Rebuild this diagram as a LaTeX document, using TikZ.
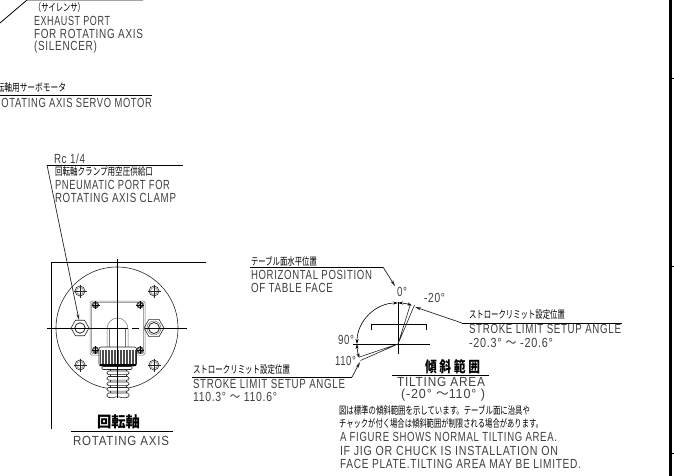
\documentclass[tikz,border=0pt]{standalone}
\usepackage{graphicx}
\usepackage{fontspec}
\setmainfont[LetterSpace=7]{Liberation Sans}
\newfontfamily\jp{Noto Sans CJK JP}
\usetikzlibrary{arrows.meta,shapes.geometric}
\newsavebox\fitbox
\newcommand\fitw[2]{\sbox\fitbox{#2}\pgfmathsetmacro\fitr{#1/\the\wd\fitbox}\scalebox{\fitr}[1]{\usebox\fitbox}}
% name, left x, centre y, width, text
\newcommand\LT[5]{\node[txt,font=\fontsize{13.2}{13}\selectfont] (#1) at (#2,#3) {\fitw{#4}{#5}};}
\newcommand\JT[5]{\node[txt,text=black,font=\fontsize{10.5}{11}\selectfont\jp] (#1) at (#2,#3) {\fitw{#4}{#5}};}
\newcommand\BT[5]{\node[txt,text=black,font=\fontsize{15}{15}\selectfont\jp\bfseries] (#1) at (#2,#3) {\fitw{#4}{#5}};}
\newcommand\wave{\smash{\jp ～}}
\tikzset{
  txt/.style={anchor=west,inner sep=0pt,outer sep=0pt,text=black!75},
  ln/.style={line width=0.8pt,draw=black},
  cl/.style={line width=0.8pt,draw=black},
  thin part/.style={line width=0.6pt,draw=black!85},
  plate/.style={line width=0.5pt,draw=black!55},
  tip/.style={line width=0.6pt,{Stealth[length=5pt,width=3pt]}-{Stealth[length=5pt,width=3pt]}},
  endtip/.style={line width=0.7pt,draw=black!85,-{Stealth[length=6pt,width=3pt]}}
}
\begin{document}
\begin{tikzpicture}[x=1pt,y=-1pt]
\useasboundingbox (0,0) rectangle (674,476);
\fill[white] (0,0) rectangle (674,476);
\clip (0,0) rectangle (674,476);

% page frame
\draw[line width=3pt] (670,0) -- (670,476);
\foreach \yy in {79,266,453} \draw[line width=1pt] (671,\yy) -- (674,\yy);

% top labels
\coordinate (ex0) at (0,23);\coordinate (ex1) at (27,0);\coordinate (ex2) at (143,0);
\draw[ln] (ex0) -- (ex1) -- (ex2);
\JT{a1}{34}{8}{51}{（サイレンサ）}
\LT{a2}{34}{21}{76}{EXHAUST PORT}
\LT{a3}{34}{34}{109}{FOR ROTATING AXIS}
\LT{a4}{34}{47}{63}{(SILENCER)}

\coordinate (sv0) at (0,95);\coordinate (sv1) at (152,95);
\draw[ln] (sv0) -- (sv1);
\JT{b1}{-11}{88}{77}{回転軸用サーボモータ}
\LT{b2}{-6}{103}{158}{ROTATING AXIS SERVO MOTOR}

\LT{c1}{54}{159}{31}{Rc 1/4}
\JT{c2}{55}{172}{98}{回転軸クランプ用空圧供給口}
\LT{c3}{55}{185}{115}{PNEUMATIC PORT FOR}
\LT{c4}{55}{198}{121}{ROTATING AXIS CLAMP}
\coordinate (cl0) at (183,165);\coordinate (cl1) at (47,165);\coordinate (cl2) at (79,320);
\draw[ln] (cl0) -- (cl1);
\draw[endtip] (cl1) -- (cl2);

% rotating axis view
\coordinate (fr0) at (51,429);\coordinate (fr1) at (51,262);\coordinate (fr2) at (206,262);
\draw[cl] (fr0) -- (fr1) -- (fr2);
\node[circle,draw=black!85,line width=0.6pt,minimum size=122pt,inner sep=0pt] (disc) at (117,328) {};
% plate
\draw[plate,rounded corners=1.5pt] (90,301) rectangle (145,355);
\draw[plate,rounded corners=1pt] (91.5,302.5) rectangle (143.5,353.5);
% big screws
\foreach \px/\py in {80/291,154/291,80/365,154/365}{
  \draw[thin part] (\px,\py) circle[radius=5];
  \draw[plate] (\px,\py) circle[radius=3.5];
  \draw[thin part] (\px-6.5,\py) -- (\px+6.5,\py) (\px,\py-6.5) -- (\px,\py+6.5);
}
% small screws
\foreach \px/\py in {95.5/305,140/305,95.5/350,140/350}{
  \fill[black!70] (\px,\py) circle[radius=3.6];
  \draw[line width=0.5pt,white] (\px,\py) circle[radius=1.7];
  \draw[line width=0.5pt,black] (\px-4,\py) -- (\px+4,\py) (\px,\py-4) -- (\px,\py+4);
}
% ports
\node[regular polygon,regular polygon sides=6,draw=black!85,line width=0.6pt,minimum size=18pt,inner sep=0pt] (hexl) at (80,328) {};
\node[regular polygon,regular polygon sides=6,draw=black!85,line width=0.6pt,minimum size=20pt,inner sep=0pt] (hexr) at (154,328) {};
\draw[line width=0.8pt,black!85] (hexl.center) circle[radius=5.2] (hexr.center) circle[radius=5.5];
\draw[plate] (hexr.center) circle[radius=7];
% clamp lever
\draw[plate] (107,349) -- (107,329) arc[start angle=-180,end angle=0,x radius=10.5,y radius=11] -- (128,349);
\draw[plate] (109.5,349) -- (109.5,329);
\draw[plate] (125.5,349) -- (125.5,329);
% knurled knob
\draw[thin part,rounded corners=2pt,fill=white] (99,347) rectangle (136.5,366);
\foreach \kx in {100.5,102,...,135.5}
  \draw[line width=0.5pt,black!70] (\kx,350) -- (\kx,364);
\draw[line width=2pt,black] (99.5,365) -- (136,365);
\draw[thin part,rounded corners=1pt,fill=white] (102,366.5) rectangle (132,369.5);
% hose
\draw[thin part] (110,370) -- (110,398) (126,370) -- (126,398);
\foreach \hy in {371,376.5,382,387.5}
  \draw[thin part,fill=white,rounded corners=1.5pt] (107,\hy) rectangle (129,\hy+3.6);
\draw[thin part,fill=white,rounded corners=1.5pt] (107,393) -- (107,397) -- (112,398) -- (117,396.5) -- (124,398) -- (129,397) -- (129,393) -- cycle;
% centre lines
\coordinate (vt) at (117,259);\coordinate (vb) at (117,398);
\coordinate (hl) at (47,328);\coordinate (hm1) at (128,328);\coordinate (hm2) at (132,328);\coordinate (hm3) at (139,328);\coordinate (hm4) at (145,328);\coordinate (hr) at (187,328);
\draw[cl] (vt) -- (vb);
\draw[cl] (hl) -- (hm1) (hm2) -- (hm3) (hm4) -- (hr);

\BT{d1}{97}{422}{43}{回転軸}
\coordinate (d0) at (71,431);\coordinate (d2) at (173,431);
\draw[ln] (d0) -- (d2);
\LT{d3}{73}{441}{96}{ROTATING AXIS}

% tilting diagram
\coordinate (O) at (398,344);
\coordinate (ov) at (398,302);\coordinate (ov2) at (398,354);
\coordinate (oh) at (353,344);\coordinate (oh2) at (430,344);
\draw[cl] (ov) -- (ov2);
\draw[cl] (oh) -- (oh2);
\coordinate (t1) at (371,330);\coordinate (t2) at (371,324);\coordinate (t3) at (426.5,324);\coordinate (t4) at (426.5,330);
\draw[ln] (t1) -- (t2) -- (t3) -- (t4);
% angular dimensions (arc radius 41 around O)
\draw[tip] (398,303) arc[start angle=-90,end angle=-180,radius=41];
\draw[tip] (357,344) arc[start angle=-180,end angle=-200,radius=41];
\draw[tip] (398,303) arc[start angle=-90,end angle=-70,radius=41];
% stroke limit double lines
\coordinate (lim1a) at (359.5,357);\coordinate (lim1b) at (360.5,360.5);
\coordinate (lim2a) at (410.5,304);\coordinate (lim2b) at (414.5,305);
\draw[thin part] (O) -- (lim1a) (O) -- (lim1b) (O) -- (lim2a) (O) -- (lim2b);

\LT{e1}{397}{292}{10}{0°}
\LT{e2}{424}{298}{21}{-20°}
\LT{e3}{338}{340}{16}{90°}
\LT{e4}{335}{361}{21}{110°}

\JT{f1}{251}{261}{66}{テーブル面水平位置}
\LT{f2}{251}{275}{121}{HORIZONTAL POSITION}
\LT{f3}{251}{288}{82}{OF TABLE FACE}
\coordinate (f0) at (250,267);\coordinate (f4) at (383,267);\coordinate (f5) at (395,286);
\draw[ln] (f0) -- (f4);
\draw[endtip] (f4) -- (f5);

\JT{g1}{193}{370}{97}{ストロークリミット設定位置}
\LT{g2}{193}{384}{152}{STROKE LIMIT SETUP ANGLE}
\LT{g3}{193}{397}{84}{110.3° \wave{} 110.6°}
\coordinate (g0) at (192,377);\coordinate (g4) at (352,377);\coordinate (g5) at (360,362);
\draw[ln] (g0) -- (g4);
\draw[endtip] (g4) -- (g5);

\JT{h1}{469}{315}{96}{ストロークリミット設定位置}
\LT{h2}{469}{329}{152}{STROKE LIMIT SETUP ANGLE}
\LT{h3}{469}{343}{84}{-20.3° \wave{} -20.6°}
\coordinate (h0) at (622,323);\coordinate (h4) at (462,323);\coordinate (h5) at (415,307);
\draw[ln] (h0) -- (h4);
\draw[endtip] (h4) -- (h5);

\BT{i1}{425}{367}{55}{傾 斜 範 囲}
\coordinate (i0) at (392,375.5);\coordinate (i2) at (489,375.5);
\draw[ln] (i0) -- (i2);
\LT{i3}{397}{382}{88}{TILTING AREA}
\LT{i4}{401}{395.5}{84}{(-20° \wave{}110° )}

\JT{j1}{339}{410}{191}{図は標準の傾斜範囲を示しています。テーブル面に治具や}
\JT{j2}{339}{424}{204}{チャックが付く場合は傾斜範囲が制限される場合があります。}
\LT{j3}{340}{437}{217}{A FIGURE SHOWS NORMAL TILTING AREA.}
\LT{j4}{340}{451}{218}{IF JIG OR CHUCK IS INSTALLATION ON}
\LT{j5}{340}{464}{241}{FACE PLATE.TILTING AREA MAY BE LIMITED.}
\end{tikzpicture}
\end{document}
